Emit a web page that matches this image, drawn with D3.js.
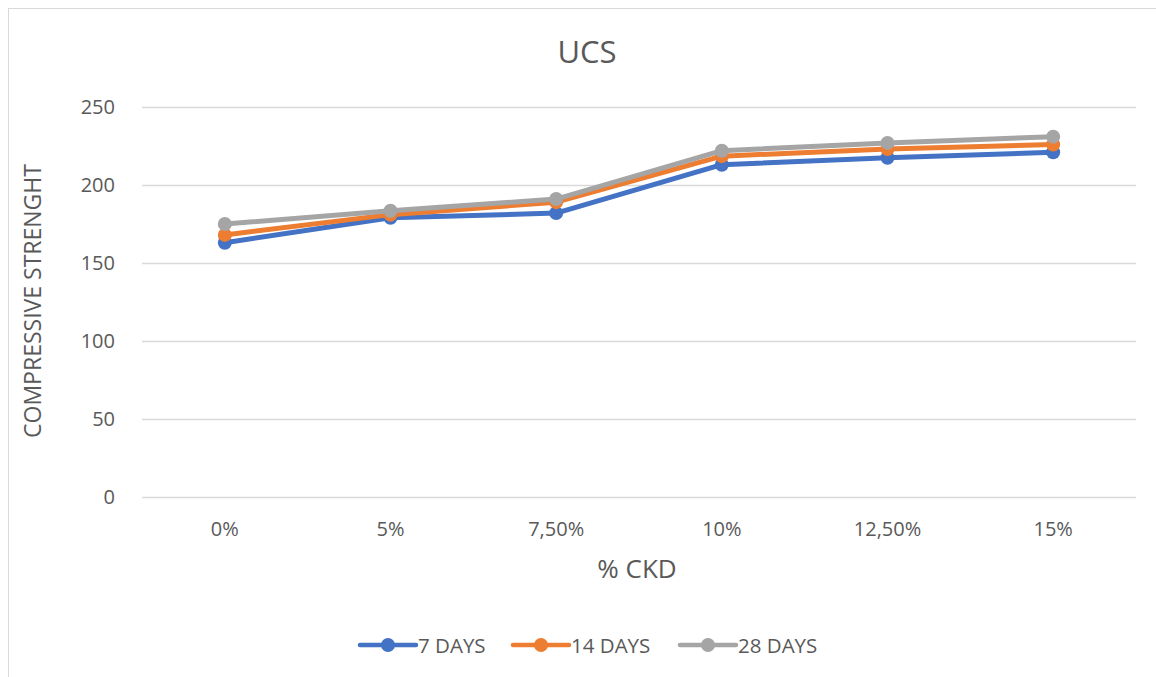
<!DOCTYPE html>
<html>
<head>
<meta charset="utf-8">
<script src="https://cdn.jsdelivr.net/npm/d3@7"></script>
<style>
  body { margin: 0; background: #fff; }
  text { font-family: "Open Sans", sans-serif; fill: #595959; }
</style>
</head>
<body>
<div id="graph"></div>
<script>
const categories = ['0%', '5%', '7,50%', '10%', '12,50%', '15%'];
const series_names = ['7 DAYS', '14 DAYS', '28 DAYS'];
const days7 = [163, 179, 182, 213, 217.5, 221];
const days14 = [168, 181, 189, 218.5, 223, 226];
const days28 = [175, 183.5, 191, 222, 227, 231];
const y_ticks = [0, 50, 100, 150, 200, 250];
const colors = ['#4472C4', '#ED7D31', '#A5A5A5'];

const w = 1156;
const h = 677;
const padding_left = 142;
const padding_right = 20;
const padding_top = 107;
const plot_bottom = 497;

const svg = d3.select('#graph')
  .append('svg')
  .attr('width', w)
  .attr('height', h);

//chart border
svg.append('rect')
  .attr('x', 8.5)
  .attr('y', 8.5)
  .attr('width', w + 20)
  .attr('height', h + 20)
  .attr('fill', 'none')
  .attr('stroke', '#d9d9d9');

const xScale = d3.scaleBand()
  .domain(categories)
  .range([padding_left, w - padding_right]);

const yScale = d3.scaleLinear()
  .domain([0, 250])
  .range([plot_bottom, padding_top]);

//gridlines
svg.append('g')
  .attr('transform', 'translate(' + padding_left + ',0)')
  .call(d3.axisLeft(yScale).tickValues(y_ticks).tickSize(-(w - padding_right - padding_left)).tickFormat(''))
  .call(g => g.select('.domain').remove())
  .call(g => g.selectAll('line').attr('stroke', '#d9d9d9').attr('stroke-width', 1.3));

//y-Axis labels
svg.append('g')
  .attr('transform', 'translate(' + (padding_left - 24) + ',0)')
  .call(d3.axisLeft(yScale).tickValues(y_ticks).tickSize(0))
  .call(g => g.select('.domain').remove())
  .call(g => g.selectAll('text')
    .attr('font-size', 20)
    .attr('font-family', '"Open Sans", sans-serif')
    .attr('fill', '#595959')
    .attr('dx', 0));

//x-Axis labels
svg.append('g')
  .attr('transform', 'translate(0,' + (plot_bottom + 22) + ')')
  .call(d3.axisBottom(xScale).tickSize(0))
  .call(g => g.select('.domain').remove())
  .call(g => g.selectAll('text')
    .attr('font-size', 20)
    .attr('font-family', '"Open Sans", sans-serif')
    .attr('fill', '#595959'));

//lines and markers
const all_series = [days7, days14, days28];
const line = d3.line()
  .x((d, i) => xScale(categories[i]) + xScale.bandwidth() / 2)
  .y(d => yScale(d));

all_series.forEach((values, s) => {
  svg.append('path')
    .datum(values)
    .attr('d', line)
    .attr('fill', 'none')
    .attr('stroke', colors[s])
    .attr('stroke-width', 5)
    .attr('stroke-linejoin', 'round')
    .attr('stroke-linecap', 'round');
  svg.selectAll('.dot' + s)
    .data(values)
    .enter()
    .append('circle')
    .attr('class', 'dot' + s)
    .attr('cx', (d, i) => xScale(categories[i]) + xScale.bandwidth() / 2)
    .attr('cy', d => yScale(d))
    .attr('r', 7)
    .attr('fill', colors[s]);
});

//title
svg.append('text')
  .text('UCS')
  .attr('x', 587)
  .attr('y', 63)
  .attr('text-anchor', 'middle')
  .attr('font-size', 31);

//x-label
svg.append('text')
  .text('% CKD')
  .attr('x', 637)
  .attr('y', 578)
  .attr('text-anchor', 'middle')
  .attr('font-size', 26);

//y-label
svg.append('text')
  .text('COMPRESSIVE STRENGHT')
  .attr('transform', 'translate(41,301) rotate(-90)')
  .attr('text-anchor', 'middle')
  .attr('font-size', 23);

//legend
const legend_x = [360, 513, 680];
series_names.forEach((name, s) => {
  const g = svg.append('g').attr('transform', 'translate(' + legend_x[s] + ',645)');
  g.append('line')
    .attr('x1', 0).attr('x2', 56)
    .attr('y1', 0).attr('y2', 0)
    .attr('stroke', colors[s])
    .attr('stroke-width', 4.5)
    .attr('stroke-linecap', 'round');
  g.append('circle')
    .attr('cx', 28).attr('cy', 0).attr('r', 7)
    .attr('fill', colors[s]);
  g.append('text')
    .text(name)
    .attr('x', 58)
    .attr('y', 7.5)
    .attr('font-size', 20.5);
});
</script>
</body>
</html>
